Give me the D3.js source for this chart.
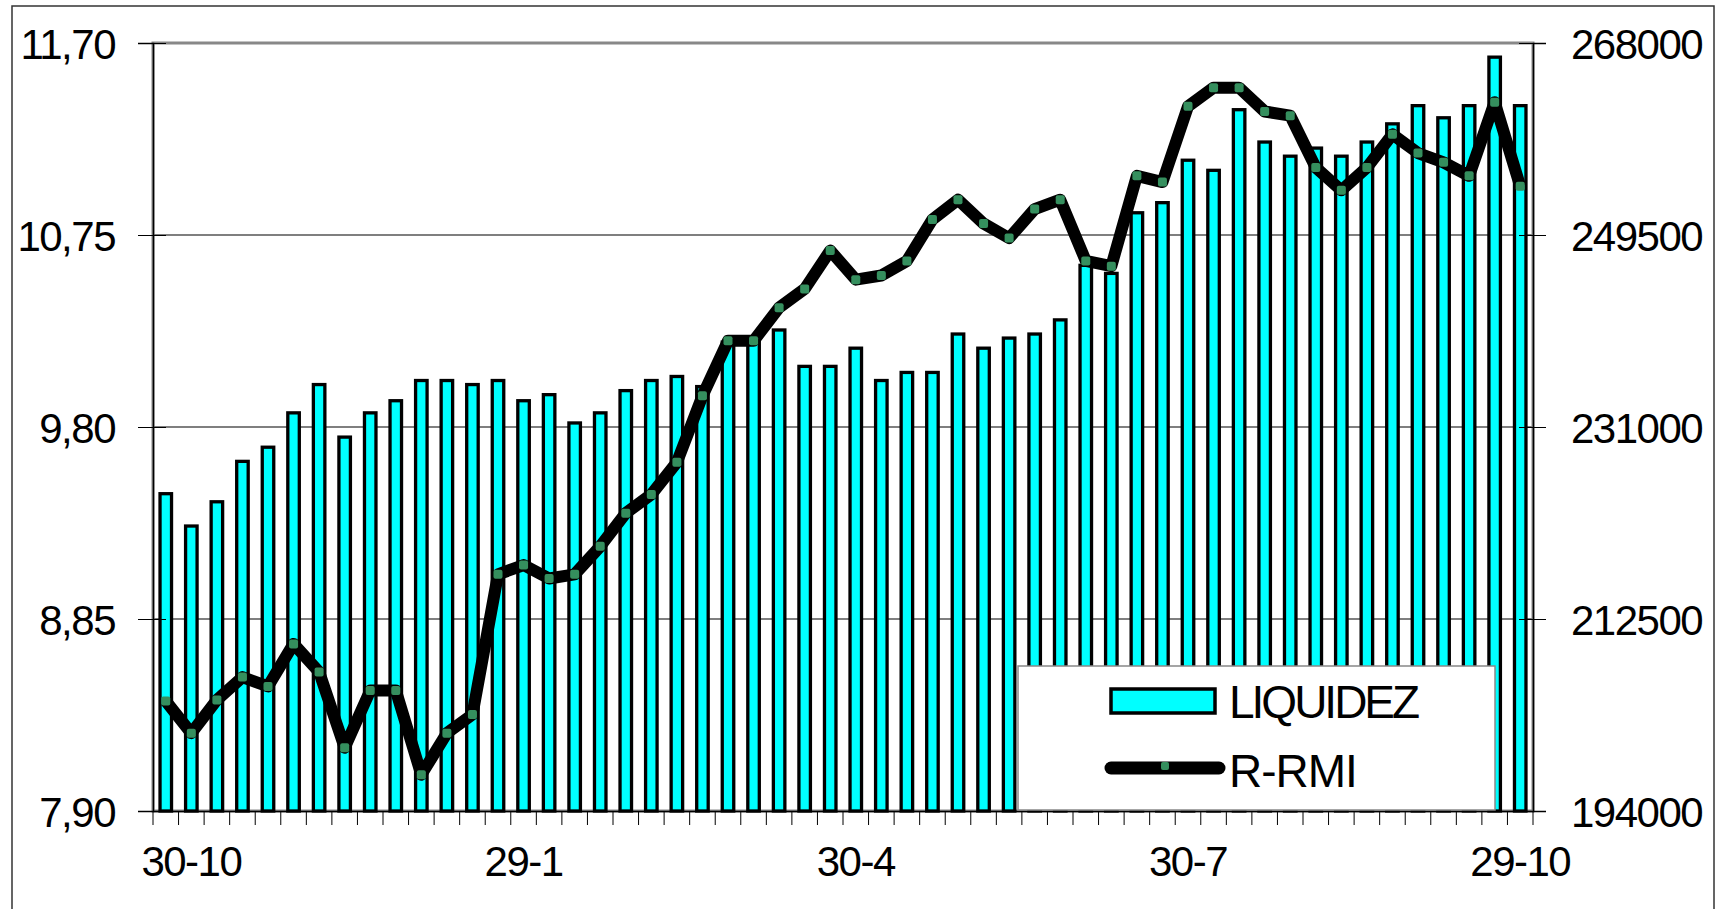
<!DOCTYPE html>
<html>
<head>
<meta charset="utf-8">
<script src="https://cdn.jsdelivr.net/npm/d3@7"></script>
<style>
  body { margin: 0; background: #fff; }
  svg { display: block; font-family: "Liberation Sans", Arial, sans-serif; }
</style>
</head>
<body>
<div id="chart"></div>
<script>
const width = 1722;
const height = 909;

// weekly dates, category 0 is the week before the first label
const weeks = [
  '23-10', '30-10', '6-11', '13-11', '20-11', '27-11', '4-12', '11-12', '18-12', '25-12',
  '1-1', '8-1', '15-1', '22-1', '29-1', '5-2', '12-2', '19-2', '26-2', '5-3',
  '12-3', '19-3', '26-3', '2-4', '9-4', '16-4', '23-4', '30-4', '7-5', '14-5',
  '21-5', '28-5', '4-6', '11-6', '18-6', '25-6', '2-7', '9-7', '16-7', '23-7',
  '30-7', '6-8', '13-8', '20-8', '27-8', '3-9', '10-9', '17-9', '24-9', '1-10',
  '8-10', '15-10', '22-10', '29-10'
];
const labelWeeks = ['30-10', '29-1', '30-4', '30-7', '29-10'];

const liquidez = [
  9.47, 9.31, 9.43, 9.63, 9.70, 9.87, 10.01, 9.75, 9.87, 9.93,
  10.03, 10.03, 10.01, 10.03, 9.93, 9.96, 9.82, 9.87, 9.98, 10.03,
  10.05, 10.00, 10.22, 10.22, 10.28, 10.10, 10.10, 10.19, 10.03, 10.07,
  10.07, 10.26, 10.19, 10.24, 10.26, 10.33, 10.60, 10.56, 10.86, 10.91,
  11.12, 11.07, 11.37, 11.21, 11.14, 11.18, 11.14, 11.21, 11.30, 11.39,
  11.33, 11.39, 11.63, 11.39
];
const rmi = [
  204600, 201500, 204700, 206900, 206000, 210100, 207400, 200100, 205600, 205600,
  197500, 201500, 203300, 216800, 217700, 216400, 216800, 219500, 222700, 224500,
  227600, 234000, 239300, 239300, 242500, 244300, 248000, 245200, 245600, 247000,
  251000, 252900, 250600, 249200, 252000, 252900, 247000, 246500, 255200, 254600,
  261900, 263700, 263700, 261400, 261000, 256000, 253800, 256000, 259200, 257400,
  256500, 255200, 262300, 254200
];

const leftTicks = [7.90, 8.85, 9.80, 10.75, 11.70];
const rightTicks = [194000, 212500, 231000, 249500, 268000];
const seriesNames = ['LIQUIDEZ', 'R-RMI'];

const plot = {left: 153, right: 1533, top: 43, bottom: 811};
const cyan = '#00ffff';
const green = '#358f5e';

const x = d3.scaleBand()
  .domain(weeks)
  .range([plot.left, plot.right]);

const yL = d3.scaleLinear()
  .domain([7.90, 11.70])
  .range([plot.bottom, plot.top]);

const yR = d3.scaleLinear()
  .domain([194000, 268000])
  .range([plot.bottom, plot.top]);

const cx = d => x(d) + x.bandwidth() / 2;
const commaFmt = d => d3.format('.2f')(d).replace('.', ',');

const svg = d3.select('#chart').append('svg')
  .attr('width', width)
  .attr('height', height);

// outer chart frame
svg.append('rect')
  .attr('x', 12).attr('y', 6)
  .attr('width', 1702).attr('height', 930)
  .attr('fill', 'none')
  .attr('stroke', '#333')
  .attr('stroke-width', 1.5);

// gridlines
svg.append('g')
  .selectAll('line')
  .data(leftTicks.slice(1, -1))
  .join('line')
    .attr('x1', plot.left).attr('x2', plot.right)
    .attr('y1', yL).attr('y2', yL)
    .attr('stroke', '#555')
    .attr('stroke-width', 1.3);

// plot area border
svg.append('rect')
  .attr('x', plot.left).attr('y', plot.top)
  .attr('width', plot.right - plot.left)
  .attr('height', plot.bottom - plot.top)
  .attr('fill', 'none')
  .attr('stroke', '#888')
  .attr('stroke-width', 3);

// bars
const barW = x.bandwidth() * 0.45;
svg.append('g')
  .selectAll('rect')
  .data(liquidez)
  .join('rect')
    .attr('x', (d, i) => cx(weeks[i]) - barW / 2)
    .attr('y', d => yL(d))
    .attr('width', barW)
    .attr('height', d => plot.bottom - yL(d))
    .attr('fill', cyan)
    .attr('stroke', '#000')
    .attr('stroke-width', 3.3);

// axes
const leftAxis = svg.append('g')
  .attr('transform', `translate(${plot.left},0)`)
  .call(d3.axisLeft(yL).tickValues(leftTicks).tickFormat(commaFmt).tickSize(15));
leftAxis.selectAll('.tick line').attr('x2', -15).attr('x1', 13).attr('stroke', '#000');

const rightAxis = svg.append('g')
  .attr('transform', `translate(${plot.right},0)`)
  .call(d3.axisRight(yR).tickValues(rightTicks).tickFormat(d3.format('d')).tickSize(13));
rightAxis.selectAll('.tick line').attr('x1', -14).attr('stroke', '#000');

const bottomAxis = svg.append('g')
  .attr('transform', `translate(0,${plot.bottom})`)
  .call(d3.axisBottom(x).tickValues(labelWeeks).tickSize(0));

// boundary ticks between weeks
svg.append('g')
  .selectAll('line')
  .data(weeks.map(w => x(w)).concat([plot.right]))
  .join('line')
    .attr('x1', d => d).attr('x2', d => d)
    .attr('y1', plot.bottom).attr('y2', plot.bottom + 14)
    .attr('stroke', '#000')
    .attr('stroke-width', 1);

[leftAxis, rightAxis, bottomAxis].forEach(g => {
  g.select('.domain').attr('stroke', '#000').attr('stroke-width', 1.5);
  g.selectAll('text')
    .attr('fill', '#000')
    .style('font-size', '42px')
    .style('letter-spacing', '-1.5px');
});
leftAxis.selectAll('text').attr('x', -38).attr('dy', '0.36em');
rightAxis.selectAll('text').attr('x', 38).attr('dy', '0.36em');
bottomAxis.selectAll('text').attr('y', 65).attr('dy', 0);

// R-RMI line with markers
const line = d3.line()
  .x((d, i) => cx(weeks[i]))
  .y(d => yR(d));

svg.append('path')
  .datum(rmi)
  .attr('d', line)
  .attr('fill', 'none')
  .attr('stroke', '#000')
  .attr('stroke-width', 12)
  .attr('stroke-linejoin', 'round');

svg.append('g')
  .selectAll('rect')
  .data(rmi)
  .join('rect')
    .attr('x', (d, i) => cx(weeks[i]) - 4.5)
    .attr('y', d => yR(d) - 4.5)
    .attr('width', 9).attr('height', 9)
    .attr('rx', 2)
    .attr('fill', green);

// legend
const legend = svg.append('g');
legend.append('rect')
  .attr('x', 1018).attr('y', 666)
  .attr('width', 477).attr('height', 144)
  .attr('fill', '#fff')
  .attr('stroke', '#888')
  .attr('stroke-width', 1.5);
legend.append('rect')
  .attr('x', 1111).attr('y', 689)
  .attr('width', 104).attr('height', 24)
  .attr('fill', cyan)
  .attr('stroke', '#000')
  .attr('stroke-width', 3.5);
legend.append('line')
  .attr('x1', 1111).attr('x2', 1219)
  .attr('y1', 768).attr('y2', 768)
  .attr('stroke', '#000')
  .attr('stroke-width', 13)
  .attr('stroke-linecap', 'round');
legend.append('rect')
  .attr('x', 1161).attr('y', 762)
  .attr('width', 8).attr('height', 8)
  .attr('rx', 2)
  .attr('fill', green);
legend.selectAll('text')
  .data(seriesNames)
  .join('text')
    .attr('x', 1229)
    .attr('y', (d, i) => i === 0 ? 718 : 787)
    .style('font-size', '46px')
    .style('letter-spacing', (d, i) => i === 0 ? '-3px' : '-1px')
    .text(d => d);
</script>
</body>
</html>
